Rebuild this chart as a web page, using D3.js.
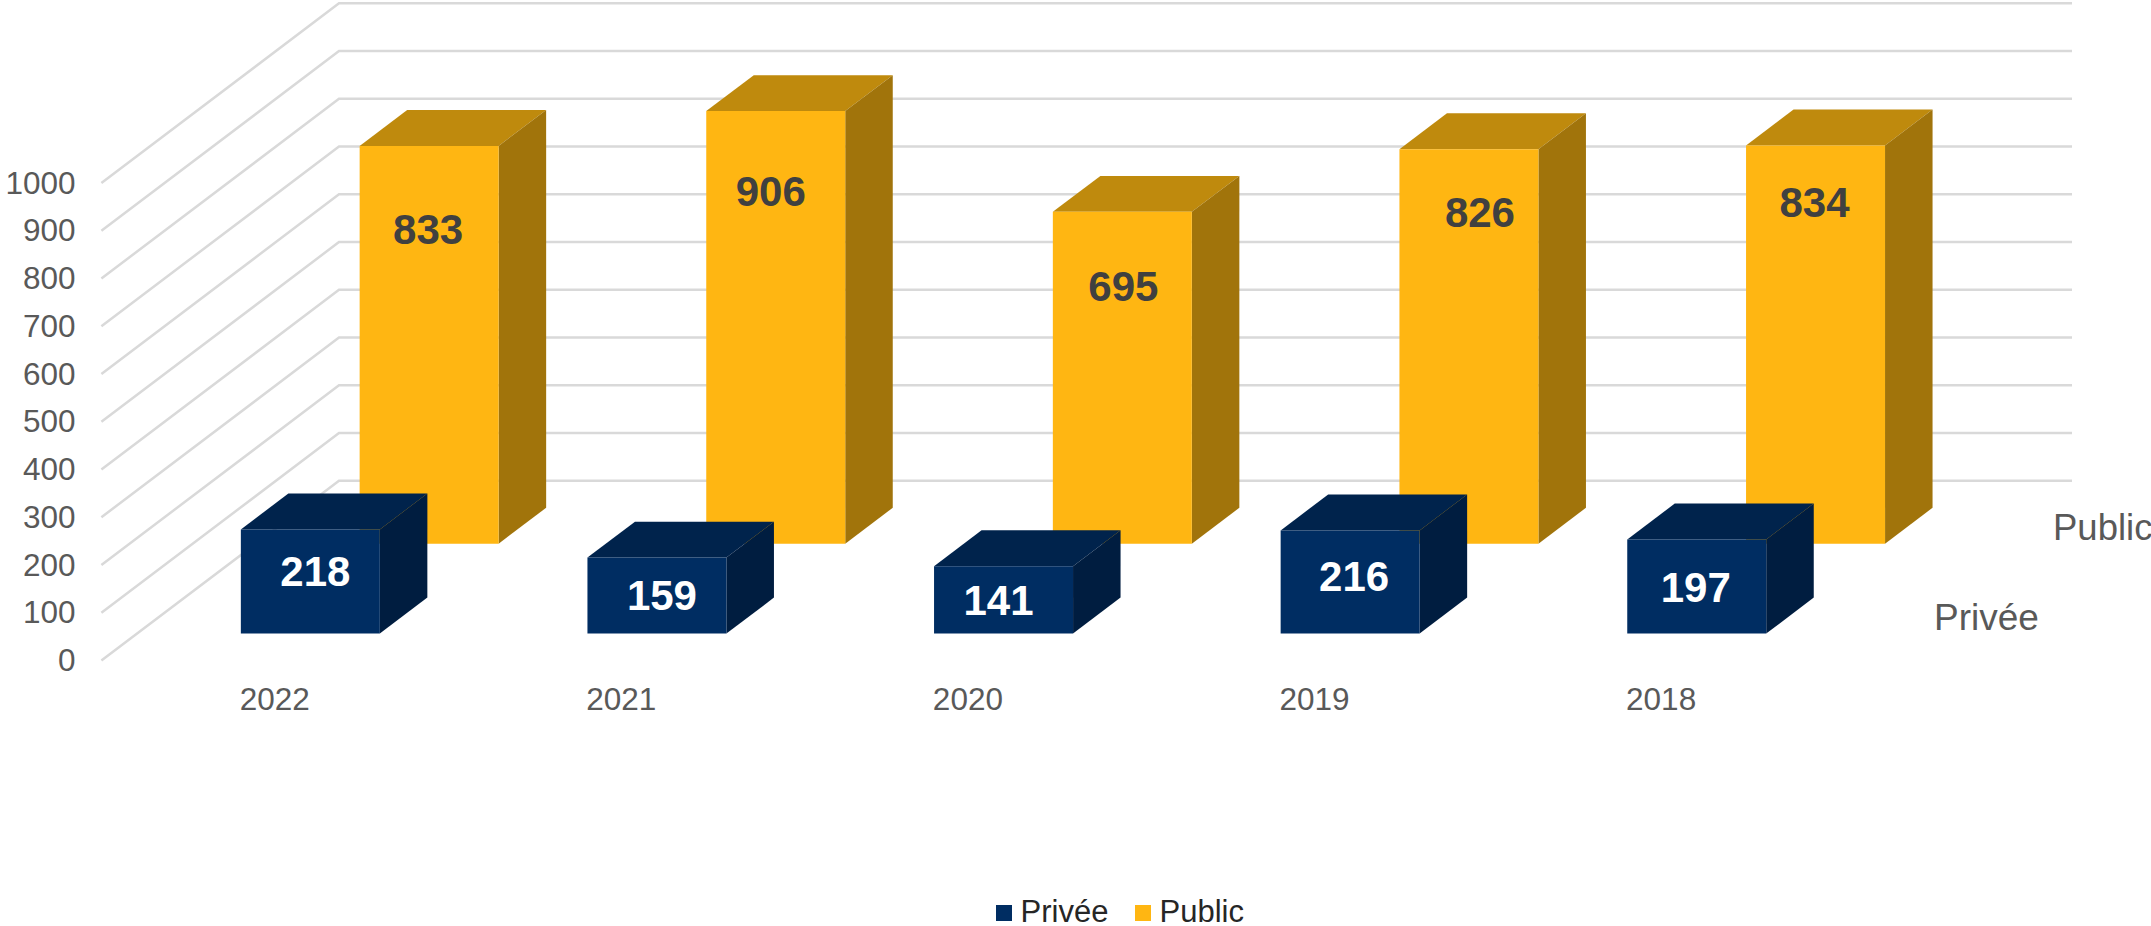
<!DOCTYPE html>
<html>
<head>
	<meta charset="utf-8">
	<title>Privée / Public</title>
	<script src="https://d3js.org/d3.v7.min.js"></script>
	<style>
		html, body { margin: 0; background: #fff; overflow: hidden; }
		text { font-family: "Liberation Sans", Arial, sans-serif; }
	</style>
</head>
<body>
<svg id="chart" width="2151" height="926"></svg>
<script type="text/javascript">

	// chart values
	var years = ["2022", "2021", "2020", "2019", "2018"];
	var seriesNames = ["Privée", "Public"];
	var privee = [218, 159, 141, 216, 197];
	var publicValues = [833, 906, 695, 826, 834];
	var yTicks = [0, 100, 200, 300, 400, 500, 600, 700, 800, 900, 1000];

	var svg = d3.select("#chart");

	// front plane of the box, the back wall sits one "depth" behind it
	var x = d3.scaleBand().domain(years).range([101.4, 1834.4]).paddingInner(0.599).paddingOuter(0.2995);
	var y = d3.scaleLinear().domain([0, 1000]).range([660.5, 183]);
	var z = d3.scaleBand().domain(seriesNames).range([0, 1]).paddingInner(0.6).paddingOuter(0.3);
	var depthX = 237.6, depthY = -179.7;

	// px = position on front plane, t = 0..1 going to the back
	function pt(px, py, t) {
		return [px + t * depthX, py + t * depthY];
	}
	function poly(points) {
		return points.map(function(p) { return p.join(","); }).join(" ");
	}

	// grid: floor/side wall diagonal, then along the back wall
	var grid = svg.append("g");
	yTicks.forEach(function(v) {
		grid.append("polyline")
			.attr("points", poly([pt(x.range()[0], y(v), 0), pt(x.range()[0], y(v), 1), pt(x.range()[1], y(v), 1)]))
			.style("fill", "none")
			.style("stroke", "#d9d9d9")
			.style("stroke-width", 2.5);
	});

	// axes
	var yAxis = svg.append("g")
		.attr("transform", "translate(84,0)")
		.call(d3.axisLeft(y).tickValues(yTicks).tickSize(0).tickPadding(8.5).tickFormat(d3.format("d")));
	var xAxis = svg.append("g")
		.attr("transform", "translate(0,688)")
		.call(d3.axisBottom(x).tickSize(0).tickPadding(0));
	svg.selectAll(".domain").remove();
	svg.selectAll(".tick text").style("font-size", "31.5px").style("fill", "#595959");
	xAxis.selectAll("text").attr("dy", "0.71em");

	var colors = {
		"Privée": {front: "#002d62", top: "#00234c", side: "#001d40", label: "#ffffff"},
		"Public": {front: "#ffb612", top: "#bf8a0d", side: "#a1740b", label: "#404040"}
	};

	// data labels were placed by hand in the original, so they are off centre a bit
	var labelNudge = {
		"Privée": [[5, -11], [5, -1], [-5, 0], [4, -6], [-1, 0]],
		"Public": [[-1, 0], [-5, 0], [1, 0], [11, 0], [-1, 0]]
	};
	var labelFromTop = {"Public": [83, 80, 74, 63, 56]};

	function drawBars(name, values) {
		var c = colors[name];
		var t0 = z(name), t1 = t0 + z.bandwidth();
		var g = svg.append("g").selectAll("g").data(values).enter().append("g");

		g.append("polygon")
			.attr("points", function(d, i) {
				var a = x(years[i]), b = a + x.bandwidth();
				return poly([pt(a, y(d), t0), pt(b, y(d), t0), pt(b, y(d), t1), pt(a, y(d), t1)]);
			})
			.style("fill", c.top);
		g.append("polygon")
			.attr("points", function(d, i) {
				var b = x(years[i]) + x.bandwidth();
				return poly([pt(b, y(0), t0), pt(b, y(d), t0), pt(b, y(d), t1), pt(b, y(0), t1)]);
			})
			.style("fill", c.side);
		g.append("polygon")
			.attr("points", function(d, i) {
				var a = x(years[i]), b = a + x.bandwidth();
				return poly([pt(a, y(0), t0), pt(b, y(0), t0), pt(b, y(d), t0), pt(a, y(d), t0)]);
			})
			.style("fill", c.front);
		g.append("text")
			.attr("x", function(d, i) {
				return x(years[i]) + x.bandwidth() / 2 + t0 * depthX + labelNudge[name][i][0];
			})
			.attr("y", function(d, i) {
				var top = y(d) + t0 * depthY, bottom = y(0) + t0 * depthY;
				var mid = labelFromTop[name] ? top + labelFromTop[name][i] : (top + bottom) / 2 + labelNudge[name][i][1];
				return mid;
			})
			.attr("dy", "0.36em")
			.attr("text-anchor", "middle")
			.style("font-size", "42px")
			.style("font-weight", "bold")
			.style("fill", c.label)
			.text(function(d) { return d; });
	}
	drawBars("Public", publicValues);
	drawBars("Privée", privee);

	// series names on the depth axis
	svg.append("text").attr("x", 2053).attr("y", 540).style("font-size", "36.5px").style("fill", "#595959").text("Public");
	svg.append("text").attr("x", 1934).attr("y", 630).style("font-size", "37px").style("fill", "#595959").text("Privée");

	// legend
	var legendX = [996, 1135];
	var legend = svg.append("g").selectAll("g").data(seriesNames).enter().append("g")
		.attr("transform", function(d, i) { return "translate(" + legendX[i] + ",905)"; });
	legend.append("rect").attr("width", 16).attr("height", 16).style("fill", function(d) { return colors[d].front; });
	legend.append("text")
		.attr("x", 24.5)
		.attr("y", 17)
		.style("font-size", "31px")
		.style("fill", "#262626")
		.text(function(d) { return d; });

</script>
</body>
</html>
